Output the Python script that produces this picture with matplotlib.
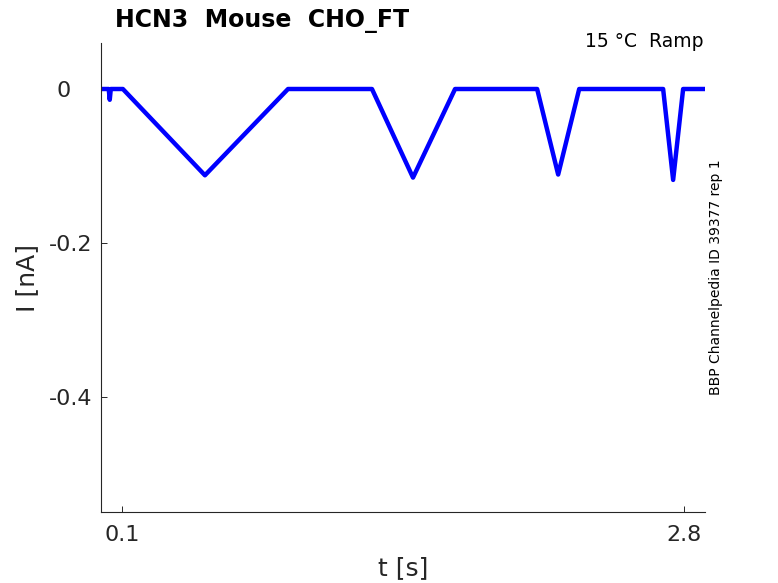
import matplotlib
matplotlib.use("Agg")
import matplotlib.pyplot as plt

# Trace key points (time in s, current in nA)
t_s = [0.0, 0.037, 0.042, 0.047, 0.105, 0.499, 0.898, 1.301, 1.498, 1.700,
       2.094, 2.195, 2.296, 2.699, 2.747, 2.795, 2.90]
i_nA = [0.0, 0.0, -0.014, 0.0, 0.0, -0.112, 0.0, 0.0, -0.115, 0.0,
        0.0, -0.111, 0.0, 0.0, -0.118, 0.0, 0.0]

x_ticks = [0.1, 2.8]
x_tick_labels = ["0.1", "2.8"]
y_ticks = [-0.4, -0.2, 0.0]
y_tick_labels = ["-0.4", "-0.2", "0   "]

title_text = "HCN3  Mouse  CHO_FT"
cond_text = "15 °C  Ramp"
side_text = "BBP Channelpedia ID 39377 rep 1"

W, H = 778, 583
fig = plt.figure(figsize=(W / 100, H / 100), dpi=100)
plt.rcParams['font.family'] = ['DejaVu Sans']

L, R, T, B = 101, 705, 43, 512
ax = fig.add_axes([L / W, (H - B) / H, (R - L) / W, (B - T) / H])
ax.plot(t_s, i_nA, color=(0, 0, 1), linewidth=3.2, solid_joinstyle='round')
ax.set_xlim(0.0, 2.9)
ax.set_ylim(-0.549, 0.0597)

gray = "#262626"
for s in ["top", "right"]:
    ax.spines[s].set_visible(False)
for s in ["left", "bottom"]:
    ax.spines[s].set_color(gray)
    ax.spines[s].set_linewidth(0.8)

ax.set_xticks(x_ticks)
ax.set_xticklabels(x_tick_labels)
ax.set_yticks(y_ticks)
ax.set_yticklabels(y_tick_labels)
ax.tick_params(axis='both', direction='in', length=4.3, width=0.7,
               colors=gray, labelsize=16)
ax.tick_params(axis='y', pad=6)
ax.tick_params(axis='x', pad=9.5)

ax.set_xlabel("t [s]", fontsize=18, color=gray, labelpad=8)
ax.set_ylabel("I [nA]", fontsize=18, color=gray)
ax.yaxis.set_label_coords(-0.1026, 0.5)

fig.text(115 / W, (H - 27) / H, title_text, fontsize=17, fontweight='bold',
         ha='left', va='baseline', color='black')
fig.text(703.5 / W, (H - 47) / H, cond_text, fontsize=13.5,
         ha='right', va='baseline', color='black')
fig.text(716 / W, (H - 277) / H, side_text, fontsize=10, rotation=90,
         ha='center', va='center', color='black')

fig.savefig("out.png", dpi=100)
